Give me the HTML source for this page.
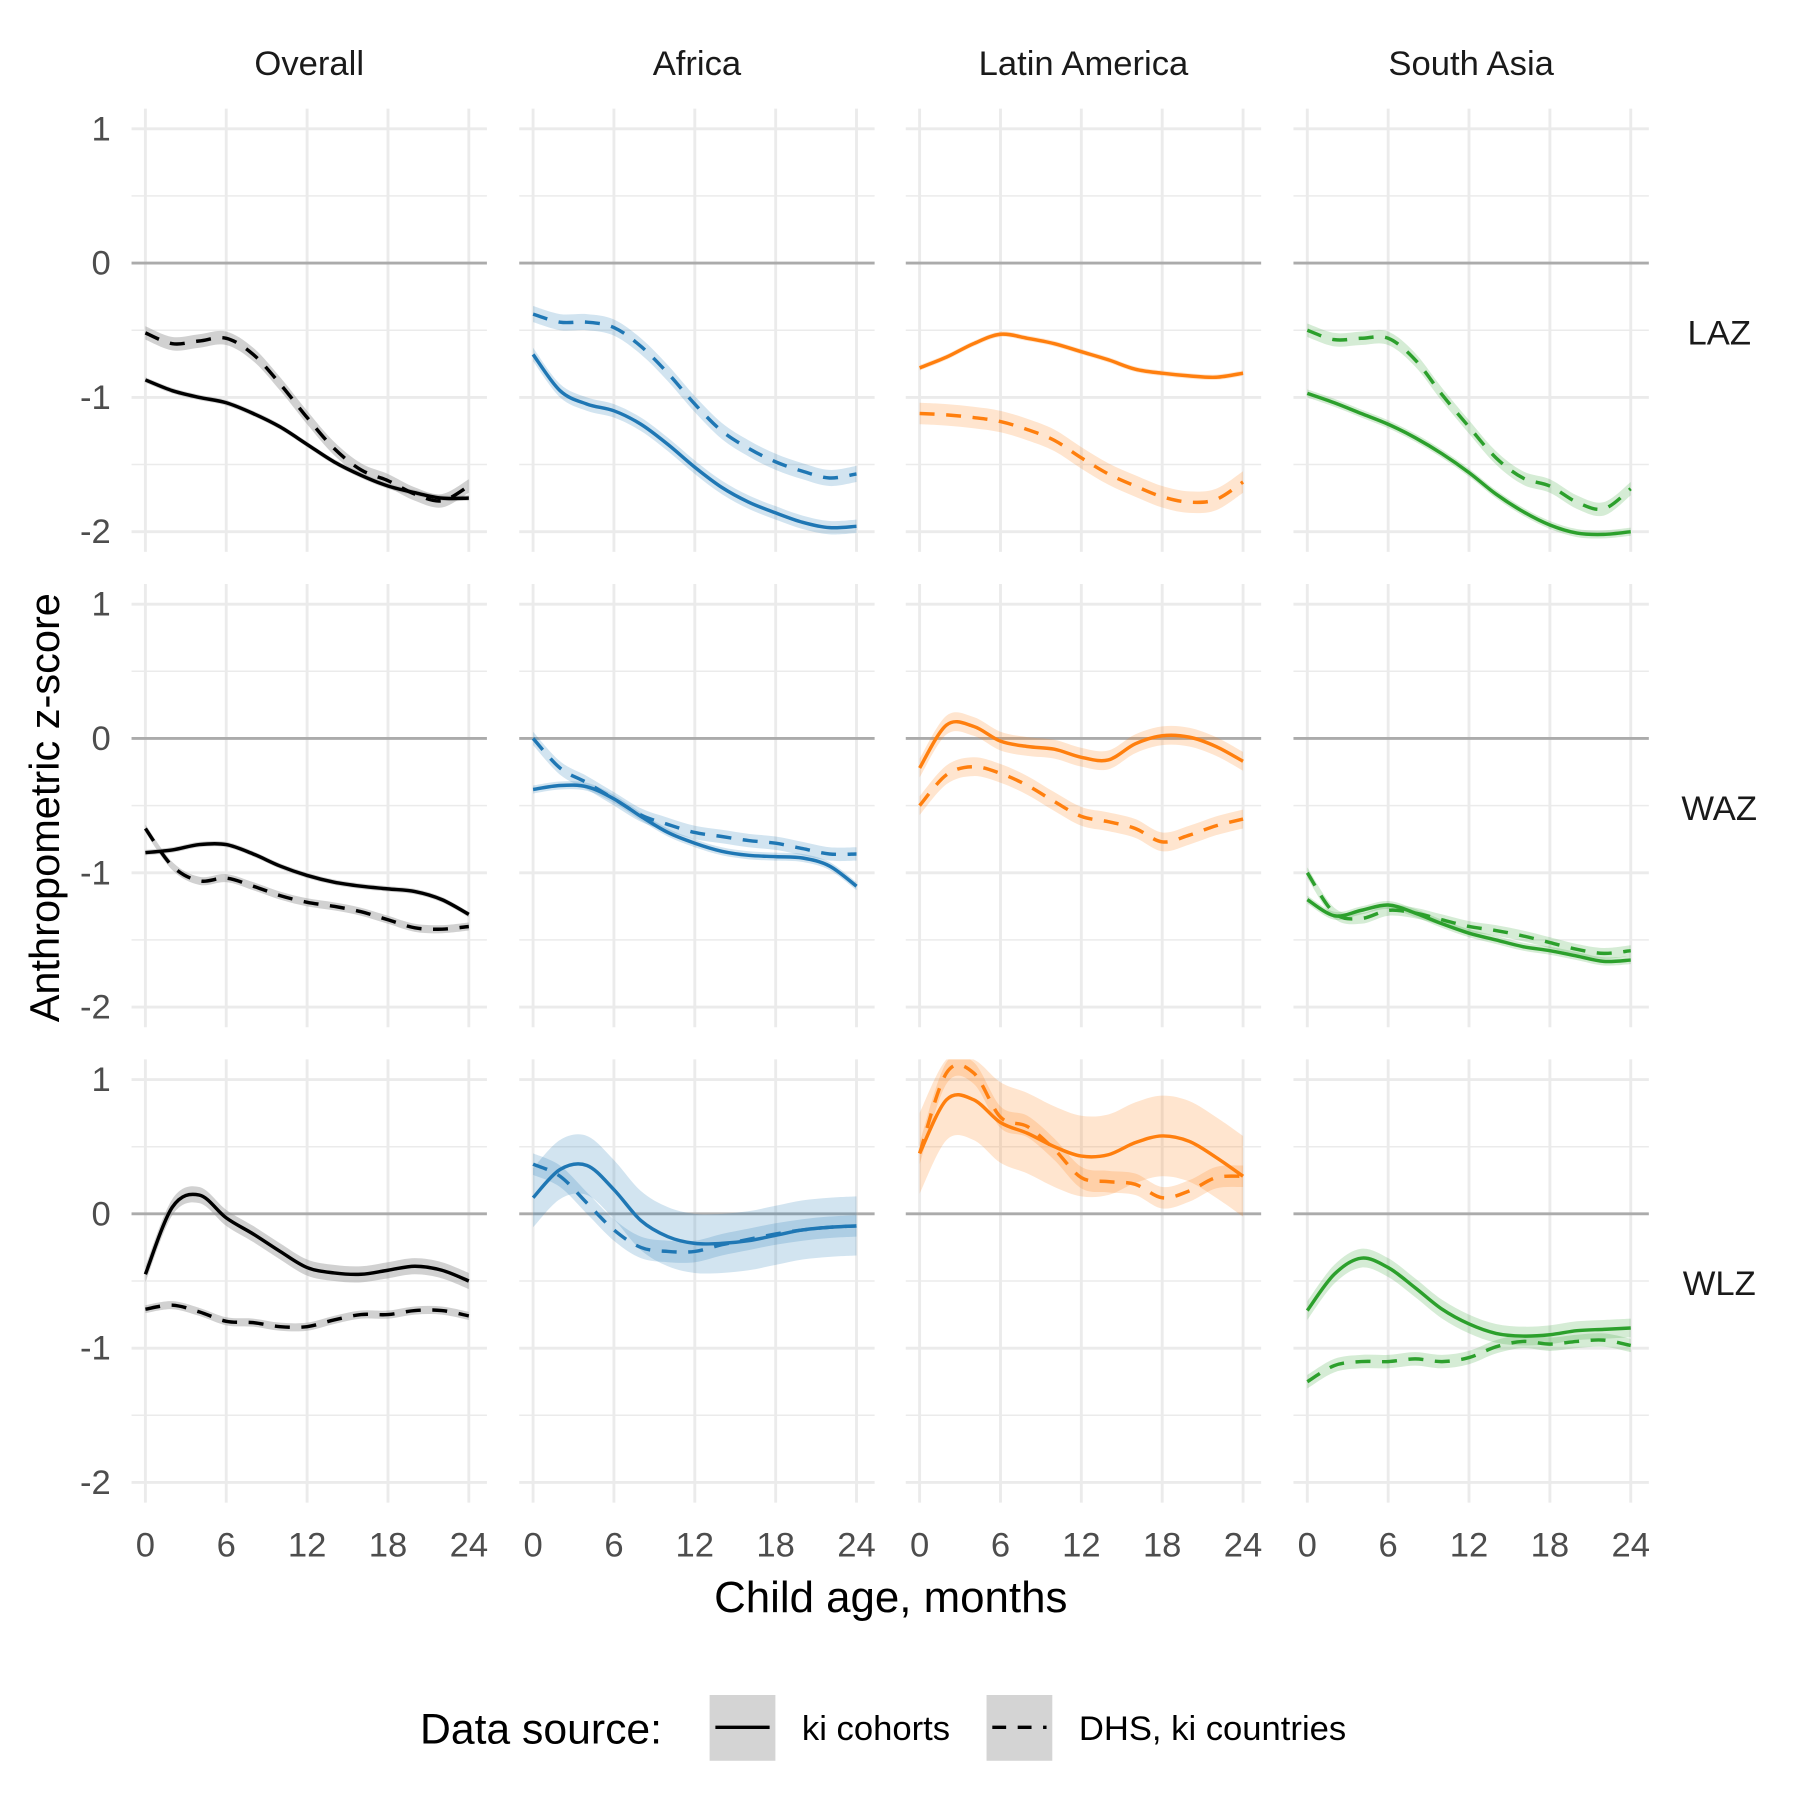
<!DOCTYPE html>
<html><head><meta charset="utf-8"><style>
html,body{margin:0;padding:0;background:#fff}
svg{display:block;font-family:"Liberation Sans",Arial,sans-serif}
</style></head><body>
<svg id="chart" width="1800" height="1800" viewBox="0 0 1560 1560" xmlns="http://www.w3.org/2000/svg">
<defs id="defs"></defs>
<g id="panels"></g>
<text x="772" y="1397" font-size="38" text-anchor="middle" fill="#000">Child age, months</text>
<text transform="translate(51,700) rotate(-90)" font-size="36" text-anchor="middle" fill="#000">Anthropometric z-score</text>
<g>
<text x="364" y="1511" font-size="37" fill="#000">Data source:</text>
<g>
<rect x="615" y="1469" width="57" height="57" fill="#d4d4d4"/>
<line x1="620" y1="1497" x2="667" y2="1497" stroke="#000" stroke-width="3"/>
<text x="695" y="1508" font-size="30" fill="#000">ki cohorts</text></g>
<g>
<rect x="855" y="1469" width="57" height="57" fill="#d4d4d4"/>
<line x1="860" y1="1497" x2="907" y2="1497" stroke="#000" stroke-width="3" stroke-dasharray="12,10"/>
<text x="935" y="1508" font-size="30" fill="#000">DHS, ki countries</text></g>
</g>
</svg>
<script>
const ages=[0,2,4,6,8,10,12,14,16,18,20,22,24];
const regions=["Overall","Africa","Latin America","South Asia"];
const measures=["LAZ","WAZ","WLZ"];
const colors=["#000000","#1f77b4","#ff7f0e","#2ca02c"];
const bandColors=["#9a9a9a","#1f77b4","#ff7f0e","#2ca02c"];
const xTicks=[0,6,12,18,24];
const yTicks=[1,0,-1,-2];
const yTickLabels=["1","0","-1","-2"];
// [measure][region] = values
const kiCohorts=[
 [[-0.87,-0.95,-1.0,-1.04,-1.12,-1.22,-1.35,-1.48,-1.58,-1.66,-1.71,-1.75,-1.75],
  [-0.68,-0.95,-1.05,-1.1,-1.2,-1.35,-1.52,-1.67,-1.78,-1.86,-1.93,-1.97,-1.96],
  [-0.78,-0.7,-0.6,-0.53,-0.56,-0.6,-0.66,-0.72,-0.79,-0.82,-0.84,-0.85,-0.82],
  [-0.97,-1.04,-1.12,-1.2,-1.3,-1.42,-1.56,-1.72,-1.85,-1.95,-2.01,-2.02,-2.0]],
 [[-0.85,-0.83,-0.79,-0.79,-0.86,-0.95,-1.02,-1.07,-1.1,-1.12,-1.14,-1.2,-1.31],
  [-0.38,-0.35,-0.36,-0.45,-0.58,-0.7,-0.78,-0.84,-0.87,-0.88,-0.89,-0.95,-1.1],
  [-0.22,0.1,0.09,-0.02,-0.06,-0.08,-0.14,-0.16,-0.04,0.02,0.01,-0.06,-0.17],
  [-1.2,-1.32,-1.28,-1.24,-1.3,-1.38,-1.45,-1.5,-1.55,-1.58,-1.62,-1.66,-1.65]],
 [[-0.45,0.05,0.14,-0.03,-0.15,-0.28,-0.4,-0.44,-0.45,-0.42,-0.39,-0.42,-0.5],
  [0.12,0.33,0.36,0.18,-0.05,-0.17,-0.22,-0.22,-0.2,-0.16,-0.12,-0.1,-0.09],
  [0.45,0.85,0.85,0.68,0.6,0.5,0.43,0.44,0.53,0.58,0.54,0.42,0.28],
  [-0.72,-0.45,-0.33,-0.4,-0.55,-0.71,-0.82,-0.89,-0.91,-0.9,-0.87,-0.86,-0.85]]
];
const dhs=[
 [[-0.52,-0.6,-0.58,-0.56,-0.68,-0.9,-1.15,-1.38,-1.54,-1.62,-1.72,-1.77,-1.66],
  [-0.38,-0.44,-0.44,-0.48,-0.62,-0.82,-1.05,-1.25,-1.38,-1.48,-1.55,-1.6,-1.57],
  [-1.12,-1.13,-1.15,-1.18,-1.24,-1.32,-1.45,-1.57,-1.66,-1.74,-1.78,-1.76,-1.63],
  [-0.5,-0.57,-0.56,-0.56,-0.72,-0.98,-1.22,-1.45,-1.6,-1.66,-1.78,-1.83,-1.68]],
 [[-0.67,-0.95,-1.06,-1.04,-1.1,-1.17,-1.22,-1.25,-1.29,-1.35,-1.41,-1.42,-1.4],
  [0.0,-0.22,-0.33,-0.45,-0.57,-0.64,-0.7,-0.73,-0.76,-0.78,-0.82,-0.86,-0.86],
  [-0.5,-0.27,-0.21,-0.26,-0.35,-0.47,-0.58,-0.62,-0.67,-0.77,-0.72,-0.65,-0.6],
  [-1.0,-1.3,-1.34,-1.28,-1.3,-1.35,-1.4,-1.43,-1.47,-1.52,-1.57,-1.6,-1.58]],
 [[-0.71,-0.68,-0.73,-0.8,-0.81,-0.84,-0.84,-0.79,-0.75,-0.75,-0.72,-0.72,-0.76],
  [0.37,0.28,0.08,-0.12,-0.25,-0.28,-0.28,-0.23,-0.19,-0.15,-0.12,-0.1,-0.09],
  [0.45,1.05,1.05,0.72,0.65,0.48,0.27,0.24,0.22,0.12,0.17,0.27,0.28],
  [-1.25,-1.13,-1.1,-1.1,-1.08,-1.1,-1.07,-0.99,-0.95,-0.97,-0.95,-0.94,-0.98]]
];
const kiBand=[[0.02,0.05,0.02,0.03],[0.02,0.03,0.07,0.03],[0.06,0.22,0.3,0.07]];
const dhsBand=[[0.05,0.06,0.08,0.05],[0.03,0.05,0.07,0.04],[0.03,0.08,0.08,0.05]];

const colX0=[126,462,797,1133], pxPerMonth=11.68;
const rowY0=[228,640,1052], pxPerUnit=116.4;
const NS="http://www.w3.org/2000/svg";
const root=document.getElementById('panels'), defs=document.getElementById('defs');
function el(t,a,p){const e=document.createElementNS(NS,t);for(const k in a)e.setAttribute(k,a[k]);(p||root).appendChild(e);return e;}
function xS(c,v){return colX0[c]+v*pxPerMonth;}
function yS(r,v){return rowY0[r]-v*pxPerUnit;}
function curve(pts){let d="M"+pts[0][0]+","+pts[0][1];for(let i=0;i<pts.length-1;i++){const p0=pts[Math.max(0,i-1)],p1=pts[i],p2=pts[i+1],p3=pts[Math.min(pts.length-1,i+2)];
d+=" C"+(p1[0]+(p2[0]-p0[0])/6)+","+(p1[1]+(p2[1]-p0[1])/6)+" "+(p2[0]-(p3[0]-p1[0])/6)+","+(p2[1]-(p3[1]-p1[1])/6)+" "+p2[0]+","+p2[1];}return d;}
function bandPath(c,r,vals,b){const up=ages.map((a,i)=>[xS(c,a),yS(r,vals[i]+b)]);const lo=ages.map((a,i)=>[xS(c,a),yS(r,vals[i]-b)]).reverse();
const d2=curve(lo).replace(/^M/,"L");return curve(up)+" "+d2+" Z";}

for(let c=0;c<4;c++){
  const t=el('text',{x:colX0[c]+142,y:65,'font-size':30,'text-anchor':'middle',fill:'#1a1a1a'});
  
  
  t.textContent=regions[c];
  const xl=colX0[c]-12, xr=colX0[c]+296;
  for(const v of xTicks){const tl=el('text',{x:xS(c,v),y:1349,'font-size':30,'text-anchor':'middle',fill:'#4d4d4d'});
    tl.textContent=v;}
  for(let r=0;r<3;r++){
    const top=yS(r,1.15), bot=yS(r,-2.15);
    const g=el('g',{});
    
    
    const cp=el('clipPath',{id:'cp'+r+c},defs);el('rect',{x:xl,y:top,width:xr-xl,height:bot-top},cp);
    for(let v=-1.5;v<=1;v+=1){el('line',{x1:xl,x2:xr,y1:yS(r,v),y2:yS(r,v),stroke:'#ebebeb','stroke-width':1.3},g);}
    for(const v of yTicks){if(v!==0)el('line',{x1:xl,x2:xr,y1:yS(r,v),y2:yS(r,v),stroke:'#ebebeb','stroke-width':2.5},g);}
    for(const v of xTicks){el('line',{x1:xS(c,v),x2:xS(c,v),y1:top,y2:bot,stroke:'#ebebeb','stroke-width':2.5},g);}
    el('line',{x1:xl,x2:xr,y1:yS(r,0),y2:yS(r,0),stroke:'#ababab','stroke-width':2.5},g);
    const cg=el('g',{'clip-path':'url(#cp'+r+c+')'},g);
    const b1=el('path',{d:bandPath(c,r,dhs[r][c],dhsBand[r][c]),fill:bandColors[c],'fill-opacity':c===0?0.45:0.2},cg);
    
    const b2=el('path',{d:bandPath(c,r,kiCohorts[r][c],kiBand[r][c]),fill:bandColors[c],'fill-opacity':c===0?0.45:0.2},cg);
    
    const l1=el('path',{d:curve(ages.map((a,i)=>[xS(c,a),yS(r,dhs[r][c][i])])),fill:'none',stroke:colors[c],'stroke-width':3,'stroke-dasharray':'13,10'},cg);
    
    const l2=el('path',{d:curve(ages.map((a,i)=>[xS(c,a),yS(r,kiCohorts[r][c][i])])),fill:'none',stroke:colors[c],'stroke-width':3},cg);
    
    if(c===0){yTicks.forEach((v,i)=>{const tl=el('text',{x:96,y:yS(r,v)+10,'font-size':30,'text-anchor':'end',fill:'#4d4d4d'});
      tl.textContent=yTickLabels[i];});}
  }
}
measures.forEach((m,r)=>{const t=el('text',{x:1490,y:yS(r,-0.52)+10,'font-size':30,'text-anchor':'middle',fill:'#1a1a1a'});
  t.textContent=m;});
</script>
</body></html>
